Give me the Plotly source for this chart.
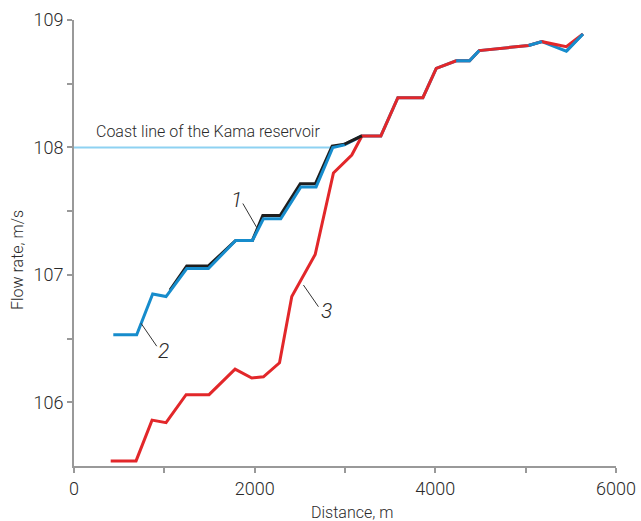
import plotly.graph_objects as go

# Series 2 (blue)
x_blue = [435, 694, 871, 1019, 1248, 1488, 1790, 1975, 2097, 2289, 2511, 2680, 2865, 2994, 3187,
          3397, 3585, 3862, 4010, 4231, 4379, 4486, 5032, 5180, 5450, 5634]
y_blue = [106.53, 106.53, 106.85, 106.83, 107.05, 107.05, 107.27, 107.27, 107.44, 107.44, 107.69, 107.69, 108.0, 108.02, 108.09,
          108.09, 108.39, 108.39, 108.62, 108.68, 108.68, 108.76, 108.80, 108.83, 108.755, 108.89]

# Series 1 (black)
x_black = [1063, 1248, 1488, 1790, 1975, 2090, 2282, 2505, 2672, 2858, 2994, 3187]
y_black = [106.88, 107.07, 107.07, 107.27, 107.27, 107.465, 107.465, 107.715, 107.715, 108.01, 108.025, 108.09]

# Series 3 (red)
x_red = [406, 687, 864, 1019, 1241, 1495, 1783, 1968, 2097, 2275, 2411, 2670, 2872, 3075, 3187,
         3397, 3585, 3862, 4010, 4231, 4379, 4486, 5032, 5180, 5450, 5634]
y_red = [105.54, 105.54, 105.86, 105.84, 106.06, 106.06, 106.26, 106.19, 106.20, 106.31, 106.83, 107.16, 107.80, 107.94, 108.09,
         108.09, 108.39, 108.39, 108.62, 108.68, 108.68, 108.76, 108.80, 108.83, 108.79, 108.89]

# Coast line level
coast_x = [0, 2865]
coast_y = [108.0, 108.0]

x_tickvals = [0, 1000, 2000, 3000, 4000, 5000, 6000]
x_ticktext = ["0", "", "2000", "", "4000", "", "6000"]
y_tickvals = [106, 106.5, 107, 107.5, 108, 108.5, 109]
y_ticktext = ["106", "", "107", "", "108", "", "109"]

FONT = "Roboto, sans-serif"
TXT = "#2a2a2a"

BLUE = "#168ccc"
RED = "#e2272a"

# blue pieces that lie on top of the red line in the shared part
blue_top_slices = [(19, 22), (22, 24), (24, 26)]
ox, oy = [], []
for a, b in blue_top_slices:
    ox += x_blue[a:b] + [None]
    oy += y_blue[a:b] + [None]

fig = go.Figure()
fig.add_trace(go.Scatter(x=coast_x, y=coast_y, mode="lines",
                         line=dict(color="#8ed2f2", width=2), hoverinfo="skip"))
fig.add_trace(go.Scatter(x=x_black, y=y_black, mode="lines",
                         line=dict(color="#1e1e1e", width=3)))
fig.add_trace(go.Scatter(x=x_blue, y=y_blue, mode="lines",
                         line=dict(color=BLUE, width=3)))
fig.add_trace(go.Scatter(x=x_red, y=y_red, mode="lines",
                         line=dict(color=RED, width=3)))
fig.add_trace(go.Scatter(x=ox, y=oy, mode="lines", connectgaps=False,
                         line=dict(color=BLUE, width=3)))
# black shadow visible on top near the junction
fig.add_trace(go.Scatter(x=x_black[-2:], y=y_black[-2:], mode="lines",
                         line=dict(color="#1e1e1e", width=3)))

# leader lines
leaders = [((1869, 107.56), (2024, 107.37)),
           ((742, 106.62), (916, 106.44)),
           ((2540, 106.92), (2706, 106.75))]
for (x0, y0), (x1, y1) in leaders:
    fig.add_shape(type="line", x0=x0, y0=y0, x1=x1, y1=y1,
                  line=dict(color="#333333", width=1))

labels = [("1", 1800, 107.59), ("2", 990, 106.40), ("3", 2790, 106.72)]
for t, x, y in labels:
    fig.add_annotation(x=x, y=y, text=f"<i>{t}</i>", showarrow=False,
                       font=dict(family=FONT, size=21, color=TXT, weight=300))

fig.add_annotation(x=1479, y=108.125, text="Coast line of the Kama reservoir",
                   showarrow=False, font=dict(family=FONT, size=16, color=TXT, weight=300))

fig.add_annotation(xref="paper", yref="paper", x=(352 - 74) / 542, y=(466 - 512) / 446,
                   xanchor="center", yanchor="middle",
                   text="Distance, m", showarrow=False,
                   font=dict(family=FONT, size=16, color=TXT, weight=300))
fig.add_annotation(xref="paper", yref="paper", x=(17 - 74) / 542, y=(466 - 260) / 446,
                   xanchor="center", yanchor="middle",
                   text="Flow rate, m/s", showarrow=False, textangle=-90,
                   font=dict(family=FONT, size=16, color=TXT, weight=300))

fig.update_xaxes(range=[0, 6000], tickvals=x_tickvals, ticktext=x_ticktext, automargin=False,
                 showgrid=False, zeroline=False, showline=True, linecolor="#999999", linewidth=2,
                 ticks="outside", ticklen=5, tickcolor="#999999", tickwidth=1.5,
                 tickfont=dict(family=FONT, size=18, color=TXT, weight=300))
fig.update_yaxes(range=[105.5, 109], tickvals=y_tickvals, ticktext=y_ticktext, automargin=False,
                 showgrid=False, zeroline=False, showline=True, linecolor="#999999", linewidth=2,
                 ticks="outside", ticklen=5, tickcolor="#999999", tickwidth=1.5,
                 tickfont=dict(family=FONT, size=18, color=TXT, weight=300))

fig.update_layout(width=641, height=521, showlegend=False,
                  margin=dict(l=74, r=25, t=20, b=55),
                  paper_bgcolor="white", plot_bgcolor="white")

fig.write_html("out.html", config={"displayModeBar": False},
               post_script="document.body.style.margin='0px';")
